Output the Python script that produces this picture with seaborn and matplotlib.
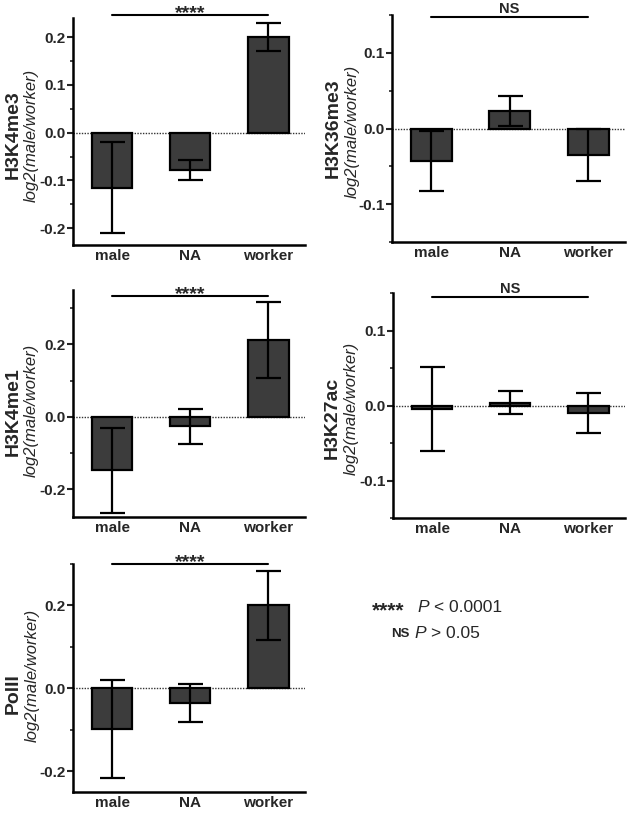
import matplotlib
matplotlib.use("Agg")
import matplotlib.pyplot as plt
import matplotlib.transforms as mtransforms
from matplotlib.ticker import MultipleLocator, FormatStrFormatter
import seaborn as sns
import pandas as pd

sns.set_style("white")
plt.rcParams['font.family'] = ['Liberation Sans', 'DejaVu Sans']
plt.rcParams['axes.unicode_minus'] = False

groups = ["male", "NA", "worker"]

h3k4me3_mean = [-0.115, -0.078, 0.200]
h3k4me3_err = [0.095, 0.021, 0.030]
h3k36me3_mean = [-0.043, 0.023, -0.035]
h3k36me3_err = [0.040, 0.020, 0.035]
h3k4me1_mean = [-0.148, -0.027, 0.211]
h3k4me1_err = [0.117, 0.047, 0.105]
h3k27ac_mean = [-0.005, 0.004, -0.010]
h3k27ac_err = [0.056, 0.015, 0.027]
polii_mean = [-0.099, -0.035, 0.200]
polii_err = [0.118, 0.045, 0.083]

W, H = 633, 814
fig = plt.figure(figsize=(W / 100, H / 100), dpi=100)

def px_axes(l, r, t, b):
    return fig.add_axes([l / W, (H - b) / H, (r - l) / W, (b - t) / H])

panels = [
    dict(name="H3K4me3", mean=h3k4me3_mean, err=h3k4me3_err, box=(73, 305, 18, 245),
         ylim=(-0.235, 0.24), major=0.1, minor=0.05, sig="****", sigy=1.013,
         namex=13, logx=31, namey=135, logy=135),
    dict(name="H3K36me3", mean=h3k36me3_mean, err=h3k36me3_err, box=(392, 625, 15, 242),
         ylim=(-0.15, 0.15), major=0.1, minor=0.05, sig="NS", sigy=0.99,
         namex=333, logx=352, namey=128, logy=131),
    dict(name="H3K4me1", mean=h3k4me1_mean, err=h3k4me1_err, box=(73, 305, 290, 517),
         ylim=(-0.277, 0.35), major=0.2, minor=0.1, sig="****", sigy=0.974,
         namex=13, logx=31, namey=412, logy=410),
    dict(name="H3K27ac", mean=h3k27ac_mean, err=h3k27ac_err, box=(393, 625, 293, 518),
         ylim=(-0.15, 0.15), major=0.1, minor=0.05, sig="NS", sigy=0.982,
         namex=332, logx=351, namey=418, logy=408),
    dict(name="PolII", mean=polii_mean, err=polii_err, box=(73, 305, 564, 792),
         ylim=(-0.25, 0.30), major=0.2, minor=0.1, sig="****", sigy=1.0,
         namex=13, logx=32, namey=694, logy=675),
]

bar_color = "#3c3c3c"

for p in panels:
    ax = px_axes(*p["box"])
    df = pd.DataFrame({"group": groups, "value": p["mean"]})
    sns.barplot(data=df, x="group", y="value", order=groups, color=bar_color,
                saturation=1, width=0.52, edgecolor="black", linewidth=1.6,
                errorbar=None, ax=ax, zorder=2)
    ax.axhline(0, color="#333333", lw=1.0, ls=(0, (1, 1)), zorder=1)
    ax.errorbar(range(len(groups)), p["mean"], yerr=p["err"], fmt="none",
                ecolor="black", elinewidth=1.6, capsize=9, capthick=1.6, zorder=3)
    ax.set_xlim(-0.5, 2.47)
    ax.set_ylim(*p["ylim"])
    ax.yaxis.set_major_locator(MultipleLocator(p["major"]))
    ax.yaxis.set_minor_locator(MultipleLocator(p["minor"]))
    ax.yaxis.set_major_formatter(FormatStrFormatter("%.1f"))
    sns.despine(ax=ax)
    for s in ("left", "bottom"):
        ax.spines[s].set_linewidth(1.8)
        ax.spines[s].set_color("black")
    ax.tick_params(axis="y", which="major", length=4, width=1.5, direction="out",
                   labelsize=11, pad=1, left=True)
    ax.tick_params(axis="y", which="minor", length=2.5, width=1.2, direction="out", left=True)
    ax.tick_params(axis="x", length=0, labelsize=11, pad=3)
    for lab in ax.get_xticklabels() + ax.get_yticklabels():
        lab.set_fontweight("bold")
    ax.set_xlabel("")
    ax.set_ylabel("")
    trans = mtransforms.blended_transform_factory(ax.transData, ax.transAxes)
    ax.plot([0, 2], [p["sigy"], p["sigy"]], color="black", lw=1.5,
            transform=trans, clip_on=False)
    if p["sig"] == "NS":
        ax.text(1, p["sigy"] + 0.004, p["sig"], transform=trans, ha="center", va="bottom",
                fontsize=10.5, fontweight="bold")
    else:
        ax.text(1, p["sigy"] - 0.03, p["sig"], transform=trans, ha="center", va="bottom",
                fontsize=14, fontweight="bold")
    fig.text(p["namex"] / W, 1 - p["namey"] / H, p["name"], rotation=90,
             ha="center", va="center", fontsize=14, fontweight="bold")
    fig.text(p["logx"] / W, 1 - p["logy"] / H, "log2(male/worker)", rotation=90,
             ha="center", va="center", fontsize=12, fontstyle="italic")

# significance key
fig.text(372 / W, 1 - 611 / H, "****", fontsize=15, fontweight="bold", ha="left", va="center")
fig.text(417 / W, 1 - 607 / H, "P", fontsize=12.5, fontstyle="italic", ha="left", va="center")
fig.text(434 / W, 1 - 607 / H, "< 0.0001", fontsize=12.5, ha="left", va="center")
fig.text(391 / W, 1 - 634 / H, "NS", fontsize=9.5, fontweight="bold", ha="left", va="center")
fig.text(414 / W, 1 - 634 / H, "P", fontsize=12.5, fontstyle="italic", ha="left", va="center")
fig.text(431 / W, 1 - 634 / H, "> 0.05", fontsize=12.5, ha="left", va="center")

fig.savefig("out.png", dpi=100)
